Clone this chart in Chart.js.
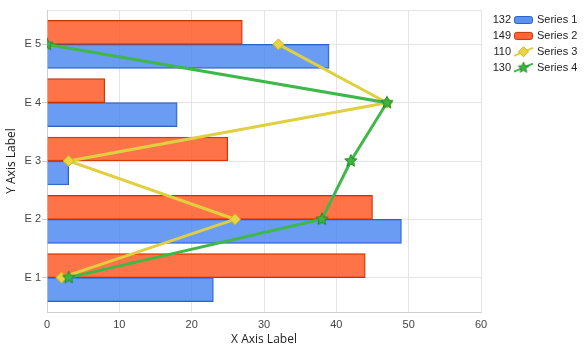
<!DOCTYPE html>
<html><head><meta charset="utf-8">
<script src="https://cdn.jsdelivr.net/npm/chart.js@4.4.0/dist/chart.umd.min.js"></script>
<style>html,body{margin:0;padding:0;background:#fff;}</style>
</head><body>
<canvas id="c" width="585" height="353" style="display:block;width:585px;height:353px"></canvas>
<script>
const categories = ['E 1', 'E 2', 'E 3', 'E 4', 'E 5'];
const seriesNames = ['Series 1', 'Series 2', 'Series 3', 'Series 4'];
const series1 = [23, 49, 3, 18, 39];
const series2 = [44, 45, 25, 8, 27];
const series3 = [2, 26, 3, 47, 32];
const series4 = [3, 38, 42, 47, 0];
const xTickStep = 10;
const xMin = 0, xMax = 60;
const xTitle = 'X Axis Label';
const yTitle = 'Y Axis Label';

const yMin = 0.41, yMax = 5.59;

function makeStar(r, fill, stroke) {
  const c = document.createElement('canvas');
  const s = Math.ceil(r * 2 + 3);
  c.width = c.height = s;
  const g = c.getContext('2d');
  g.beginPath();
  for (let i = 0; i < 10; i++) {
    const rad = i % 2 ? r * 0.45 : r;
    const a = -Math.PI / 2 + i * Math.PI / 5;
    const x = s / 2 + rad * Math.cos(a), y = s / 2 + rad * Math.sin(a);
    if (i) g.lineTo(x, y); else g.moveTo(x, y);
  }
  g.closePath();
  g.fillStyle = fill; g.fill();
  g.strokeStyle = stroke; g.lineWidth = 1; g.stroke();
  return c;
}
const starImg = makeStar(6.5, '#3fb444', '#1f8a24');
const starSmall = makeStar(5.5, '#3fb444', '#1f8a24');

const colors = {
  s1: {fill: 'rgba(80,140,240,0.86)', border: '#2f5fc8'},
  s2: {fill: 'rgba(255,92,42,0.86)', border: '#c83200'},
  s3: {line: '#e0d040', fill: '#e8d444', border: '#c9b21e'},
  s4: {line: '#3fb848', fill: '#3fb444', border: '#1f8a24'}
};

const toPts = arr => arr.map((v, i) => ({x: v, y: i + 1}));

const legendPlugin = {
  id: 'customLegend',
  afterDraw(chart) {
    const ctx = chart.ctx;
    const sums = [series1, series2, series3, series4].map(a => a.reduce((p, q) => p + q, 0));
    ctx.save();
    ctx.font = '11px "Liberation Sans", Arial, sans-serif';
    ctx.textBaseline = 'middle';
    for (let i = 0; i < 4; i++) {
      const y = 20 + i * 15.9;
      ctx.fillStyle = '#222';
      ctx.textAlign = 'right';
      ctx.fillText(String(sums[i]), 511, y);
      ctx.textAlign = 'left';
      ctx.fillText(seriesNames[i], 537, y);
      const bx = 514, bw = 19;
      if (i < 2) {
        const c = i === 0 ? colors.s1 : colors.s2;
        ctx.beginPath();
        ctx.roundRect(bx + 0.5, y - 3.5, bw - 1, 7, 2);
        ctx.fillStyle = i === 0 ? '#5a92f0' : '#ff6436';
        ctx.fill();
        ctx.strokeStyle = c.border; ctx.lineWidth = 1; ctx.stroke();
      } else {
        const c = i === 2 ? colors.s3 : colors.s4;
        ctx.beginPath();
        ctx.moveTo(bx, y + 4); ctx.lineTo(bx + bw, y - 4);
        ctx.strokeStyle = c.line; ctx.lineWidth = 2; ctx.stroke();
        const cx = bx + bw / 2;
        if (i === 2) {
          ctx.beginPath();
          ctx.moveTo(cx, y - 5); ctx.lineTo(cx + 5, y); ctx.lineTo(cx, y + 5); ctx.lineTo(cx - 5, y); ctx.closePath();
          ctx.fillStyle = c.fill; ctx.fill(); ctx.strokeStyle = c.border; ctx.lineWidth = 1; ctx.stroke();
        } else {
          ctx.drawImage(starSmall, cx - starSmall.width / 2, y - starSmall.height / 2);
        }
      }
    }
    ctx.restore();
  }
};

new Chart(document.getElementById('c'), {
  type: 'bar',
  data: {
    datasets: [
      {type: 'bar', label: seriesNames[0], data: toPts(series1), backgroundColor: colors.s1.fill, borderColor: colors.s1.border, borderWidth: 1, barThickness: 24, order: 2},
      {type: 'bar', label: seriesNames[1], data: toPts(series2), backgroundColor: colors.s2.fill, borderColor: colors.s2.border, borderWidth: 1, barThickness: 24, order: 1},
      {type: 'line', label: seriesNames[2], data: toPts(series3), borderColor: colors.s3.line, borderWidth: 3, pointStyle: 'rectRot', pointRadius: 5.5, pointBackgroundColor: colors.s3.fill, pointBorderColor: colors.s3.border, pointBorderWidth: 1, fill: false, tension: 0, order: -1},
      {type: 'line', label: seriesNames[3], data: toPts(series4), borderColor: colors.s4.line, borderWidth: 3, pointStyle: starImg, pointRadius: 6, fill: false, tension: 0, order: -2}
    ]
  },
  options: {
    indexAxis: 'y',
    responsive: false,
    animation: false,
    devicePixelRatio: 1,
    layout: {padding: {top: 10, right: 104, left: 0, bottom: 0}},
    plugins: {legend: {display: false}, tooltip: {enabled: false}},
    scales: {
      x: {
        type: 'linear', min: xMin, max: xMax, position: 'bottom', offset: false,
        afterFit: s => { s.height = 41; },
        ticks: {stepSize: xTickStep, font: {family: 'Liberation Sans', size: 11}, color: '#444', padding: 6},
        grid: {color: '#e4e4e4', drawTicks: false, offset: false},
        border: {color: '#cfcfcf'},
        title: {display: true, text: xTitle, font: {family: 'Open Sans', size: 12}, color: '#222', padding: {top: 0, bottom: 6}}
      },
      y: {
        type: 'linear', min: yMin, max: yMax, position: 'left', offset: false,
        afterBuildTicks: s => { s.ticks = [{value: yMin}].concat(categories.map((c, i) => ({value: i + 1})), [{value: yMax}]); },
        afterFit: s => { s.width = 47; },
        ticks: {
          autoSkip: false,
          callback: v => { const i = Math.round(v) - 1; return Math.abs(v - (i + 1)) < 1e-6 && categories[i] ? categories[i] : ''; },
          font: {family: 'Liberation Sans', size: 11}, color: '#444', padding: 1
        },
        grid: {color: '#e4e4e4', offset: false, tickLength: 5, tickColor: c => (c.tick && Math.abs(c.tick.value - Math.round(c.tick.value)) < 1e-6) ? '#cfcfcf' : 'rgba(0,0,0,0)'},
        border: {color: '#cfcfcf'},
        title: {display: true, text: yTitle, font: {family: 'Open Sans', size: 12}, color: '#222', padding: {top: 4, bottom: 0}}
      }
    }
  },
  plugins: [legendPlugin]
});
</script>
</body></html>
